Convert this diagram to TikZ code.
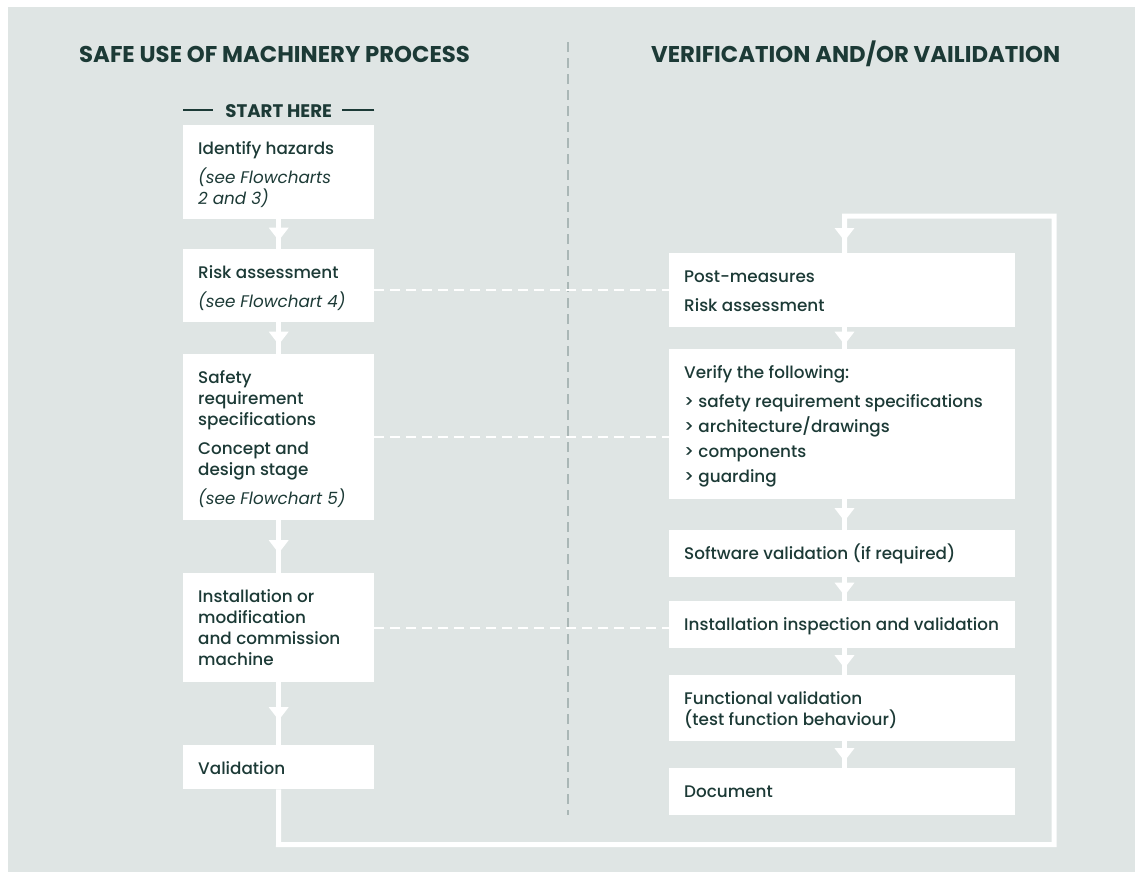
\documentclass[tikz,border=0pt]{standalone}
\usepackage{fontspec}
\setmainfont{Poppins}[UprightFont={* Medium}, ItalicFont={* Italic}, BoldFont={* Bold}]
\usetikzlibrary{arrows.meta,decorations.markings,calc}
\definecolor{panel}{HTML}{DFE5E4}
\definecolor{ink}{HTML}{1C3A36}
\definecolor{divider}{HTML}{AAB7B6}
\begin{document}
\begin{tikzpicture}[x=1pt,y=-1pt,
  box/.style={fill=white, draw=none, inner sep=0pt, anchor=north west},
  lbox/.style={box, minimum width=191pt},
  rbox/.style={box, minimum width=346pt},
  txt/.style={anchor=base west, inner sep=0pt, text=ink, font=\fontsize{16.8}{21}\selectfont},
  title/.style={anchor=base west, inner sep=0pt, text=ink, font=\fontsize{22.8}{26}\selectfont\bfseries},
  flow/.style={draw=white, color=white, line width=5pt, postaction={decorate},
    decoration={markings, mark=at position 0.5 with {\arrow[xshift=6.5pt]{Triangle[width=19pt,length=13pt]}}}},
  link/.style={draw=white, line width=2pt, dash pattern=on 10pt off 6pt},
  loopline/.style={draw=white, line width=5pt},
]
\useasboundingbox (0,0) rectangle (1135,871);
\fill[white] (0,0) rectangle (1135,871);
\fill[panel] (8,7) rectangle (1136,872);

% divider
\coordinate (dtop) at (568,42);
\coordinate (dbot) at (568,815);
\draw[divider, line width=2.5pt, dash pattern=on 10pt off 6pt] (dtop) -- (dbot);

% titles
\node[title] (tl) at (79,62) {SAFE USE OF MACHINERY PROCESS};
\node[title] (tr) at (651,62) {VERIFICATION AND/OR VAILIDATION};

% left boxes
\node[lbox, minimum height=94pt]  (b1) at (183,125) {};
\node[lbox, minimum height=73pt]  (b2) at (183,249) {};
\node[lbox, minimum height=166pt] (b3) at (183,354) {};
\node[lbox, minimum height=109pt] (b4) at (183,573) {};
\node[lbox, minimum height=44pt]  (b5) at (183,745) {};

% right boxes
\node[rbox, minimum height=74pt]  (r1) at (669,253) {};
\node[rbox, minimum height=150pt] (r2) at (669,349) {};
\node[rbox, minimum height=47pt]  (r3) at (669,530) {};
\node[rbox, minimum height=47pt]  (r4) at (669,601) {};
\node[rbox, minimum height=66pt]  (r5) at (669,675) {};
\node[rbox, minimum height=47pt]  (r6) at (669,768) {};

% start here
\node[anchor=base, inner sep=0pt, text=ink, font=\fontsize{18.2}{20}\selectfont\bfseries] (sh) at ($(b1.north)+(0,-8)$) {START HERE};
\draw[ink, line width=1.2pt] ($(b1.north west)+(0,-15)$) -- +(30,0);
\draw[ink, line width=1.2pt] ($(b1.north east)+(0,-15)$) -- +(-32,0);

% texts left
\node[txt] (t1) at ($(b1.north west)+(15,29.5)$) {\vtop{\hbox{Identify hazards}\vskip8pt\hbox{\itshape(see Flowcharts}\hbox{\itshape 2 and 3)}}};
\node[txt] (t2) at ($(b2.north west)+(15,29.5)$) {\vtop{\hbox{Risk assessment}\vskip8pt\hbox{\itshape(see Flowchart 4)}}};
\node[txt] (t3) at ($(b3.north west)+(15,29.5)$) {\vtop{\hbox{Safety}\hbox{requirement}\hbox{specifications}\vskip8pt\hbox{Concept and}\hbox{design stage}\vskip8pt\hbox{\itshape(see Flowchart 5)}}};
\node[txt] (t4) at ($(b4.north west)+(15,29.5)$) {\vtop{\hbox{Installation or}\hbox{modification}\hbox{and commission}\hbox{machine}}};
\node[txt] (t5) at ($(b5.north west)+(15,29.5)$) {Validation};

% texts right
\node[txt] (u1) at ($(r1.north west)+(15,29.5)$) {\vtop{\hbox{Post-measures}\vskip8pt\hbox{Risk assessment}}};
\node[txt] (u2) at ($(r2.north west)+(15,29.5)$) {\vtop{\baselineskip=25pt\hbox{Verify the following:}\vskip4pt\hbox{> safety requirement specifications}\hbox{> architecture/drawings}\hbox{> components}\hbox{> guarding}}};
\node[txt] (u3) at ($(r3.north west)+(15,29.5)$) {Software validation (if required)};
\node[txt] (u4) at ($(r4.north west)+(15,29.5)$) {Installation inspection and validation};
\node[txt] (u5) at ($(r5.north west)+(15,29.5)$) {\vtop{\hbox{Functional validation}\hbox{(test function behaviour)}}};
\node[txt] (u6) at ($(r6.north west)+(15,29.5)$) {Document};

% dashed links
\draw[link] (b2.east |- r1.west) -- (r1.west);
\draw[link] (b3.east) -- (b3.east -| r2.west);
\draw[link] (b4.east) -- (b4.east -| r4.west);

% left flow
\draw[flow] (b1.south) -- (b2.north);
\draw[flow] (b2.south) -- (b3.north);
\draw[flow] (b3.south) -- (b4.north);
\draw[flow] (b4.south) -- (b5.north);

% right flow
\coordinate (rx) at (844.5,0);
\draw[flow] (r1.south -| rx) -- (r2.north -| rx);
\draw[flow] (r2.south -| rx) -- (r3.north -| rx);
\draw[flow] (r3.south -| rx) -- (r4.north -| rx);
\draw[flow] (r4.south -| rx) -- (r5.north -| rx);
\draw[flow] (r5.south -| rx) -- (r6.north -| rx);

% feedback loop
\coordinate (loopbl) at (278.5,844.5);
\coordinate (loopbr) at (1054,844.5);
\coordinate (looptr) at (1054,216);
\coordinate (looptl) at (844.5,216);
\draw[loopline] (b5.south) -- (loopbl) -- (loopbr) -- (looptr) -- (looptl) -- (r1.north -| rx);
\draw[flow] (looptl) -- (r1.north -| rx);
\end{tikzpicture}
\end{document}
